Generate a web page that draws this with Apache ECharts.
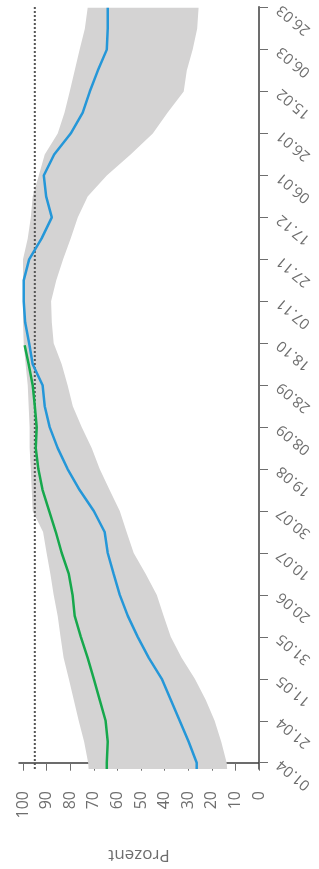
<!DOCTYPE html>
<html><head><meta charset="utf-8">
<script src="https://cdn.jsdelivr.net/npm/echarts@6/dist/echarts.min.js"></script>
<style>html,body{margin:0;padding:0;background:#fff}#c{width:319px;height:869px}</style>
</head><body><div id="c"></div>
<script>
// ---- data ----
const dateTickDays = [0,20,40,60,80,100,120,140,160,180,200,220,240,260,280,300,320,340,360];
const dateLabels = ['01.04','21.04','11.05','31.05','20.06','10.07','30.07','19.08','08.09','28.09','18.10','07.11','27.11','17.12','06.01','26.01','15.02','06.03','26.03'];
const valueTicks = [0,10,20,30,40,50,60,70,80,90,100];
const days = [-3,0,10,20,30,40,50,60,70,80,90,100,110,120,130,140,150,160,170,180,190,200,210,220,230,240,250,260,270,280,290,300,310,320,330,340,350,360];
const blueValues = [26.4,26.4,29.8,33.6,37.4,41.2,46.7,51.4,55.6,59.0,61.6,64.1,65.4,70.0,76.0,81.1,85.3,88.7,90.8,91.7,95.9,97.4,99.1,99.7,99.7,97.4,92.1,87.8,90.2,91.2,86.8,79.8,74.7,71.7,68.3,64.5,64.1,64.1];
const bandUpper = [72.2,72.4,74.1,76.4,78.5,80.6,82.8,84.1,85.3,87.0,88.4,90.0,91.5,95.9,96.3,96.7,97.2,97.2,97.6,98.0,98.9,99.7,100,100,100,100,98.0,96.7,95.9,93.3,90.8,85.3,82.4,80.2,78.1,76.0,73.8,72.6];
const bandLower = [13.5,13.7,16.0,18.8,22.6,27.2,32.8,37.4,40.4,43.3,48.0,53.1,56.1,59.0,63.3,67.5,70.9,75.1,78.9,81.1,83.6,87.0,87.8,88.1,85.9,83.0,79.8,76.8,72.6,64.5,54.4,45.0,38.7,31.9,30.6,28.1,26.2,25.6];
const greenDays = [-3,0,10,20,30,40,50,60,70,80,90,100,110,120,130,140,150,160,170,180,190,199];
const greenValues = [64.5,64.5,64.1,65.0,67.5,70.0,72.6,75.5,78.1,79.0,80.6,83.6,86.1,88.9,91.7,93.5,94.6,94.2,95.0,95.9,97.6,99.3];
const referenceValue = 95;
const axisName = 'Prozent';

// ---- chart ----
const FONT = '"Open Sans", sans-serif';
const TEXT = '#6e6e6e';
const X_MIN = 0, X_MAX = 101.7, Y_MIN = -3, Y_MAX = 360.5;
const chart = echarts.init(document.getElementById('c'), null, {renderer: 'canvas'});

const bandData = days.map((d, i) => [bandLower[i], d, bandUpper[i]]);
const blueData = days.map((d, i) => [blueValues[i], d]);
const greenData = greenDays.map((d, i) => [greenValues[i], d]);

const option = {
  animation: false,
  grid: {left: 19, top: 5, width: 240, height: 764, containLabel: false},
  xAxis: [
    {type: 'value', inverse: true, min: X_MIN, max: X_MAX, position: 'bottom',
     axisLine: {show: true, lineStyle: {color: '#3c3c3c', width: 1.5}},
     axisTick: {show: false}, axisLabel: {show: false}, splitLine: {show: false}},
    {type: 'value', inverse: true, min: X_MIN, max: X_MAX, position: 'bottom', offset: 7,
     axisLine: {show: false},
     axisTick: {show: true, length: 8, customValues: valueTicks, lineStyle: {color: '#6e6e6e', width: 1}},
     axisLabel: {show: true, customValues: valueTicks, rotate: 90, margin: 15, fontSize: 16, color: TEXT, fontFamily: FONT},
     splitLine: {show: false},
     name: axisName, nameLocation: 'middle', nameRotate: 180, nameGap: 70,
     nameTextStyle: {fontSize: 17, color: TEXT, fontFamily: FONT}}
  ],
  yAxis: [
    {type: 'value', min: Y_MIN, max: Y_MAX, position: 'right',
     axisLine: {show: true, lineStyle: {color: '#3c3c3c', width: 1.5}},
     axisTick: {show: false}, axisLabel: {show: false}, splitLine: {show: false}},
    {type: 'value', min: Y_MIN, max: Y_MAX, position: 'right', offset: 6,
     axisLine: {show: false},
     axisTick: {show: true, length: 9, customValues: dateTickDays, lineStyle: {color: '#6e6e6e', width: 1}},
     axisLabel: {show: true, customValues: dateTickDays, rotate: 140, margin: 14, fontSize: 15, color: TEXT, fontFamily: FONT,
       formatter: v => { const i = dateTickDays.indexOf(Math.round(v)); return i >= 0 ? dateLabels[i] : ''; }},
     splitLine: {show: false}}
  ],
  series: [
    {type: 'custom', xAxisIndex: 0, yAxisIndex: 0, data: bandData, z: 1, silent: true,
     encode: {x: [0, 2], y: 1},
     renderItem: function (params, api) {
       if (params.dataIndex !== 0) return null;
       const pts = [];
       for (let i = 0; i < bandData.length; i++) pts.push(api.coord([bandData[i][2], bandData[i][1]]));
       for (let i = bandData.length - 1; i >= 0; i--) pts.push(api.coord([bandData[i][0], bandData[i][1]]));
       return {type: 'polygon', shape: {points: pts}, style: {fill: '#d4d3d3'}};
     }},
    {type: 'line', xAxisIndex: 0, yAxisIndex: 0, z: 3, silent: true, showSymbol: false,
     data: [[referenceValue, Y_MIN], [referenceValue, Y_MAX]],
     lineStyle: {color: '#555', width: 2, type: [2, 2]}},
    {type: 'line', xAxisIndex: 0, yAxisIndex: 0, z: 4, silent: true, showSymbol: false,
     data: greenData, lineStyle: {color: '#16a84c', width: 2.5}},
    {type: 'line', xAxisIndex: 0, yAxisIndex: 0, z: 5, silent: true, showSymbol: false,
     data: blueData, lineStyle: {color: '#2597d8', width: 2.5}}
  ]
};
chart.setOption(option);
</script>
</body></html>
